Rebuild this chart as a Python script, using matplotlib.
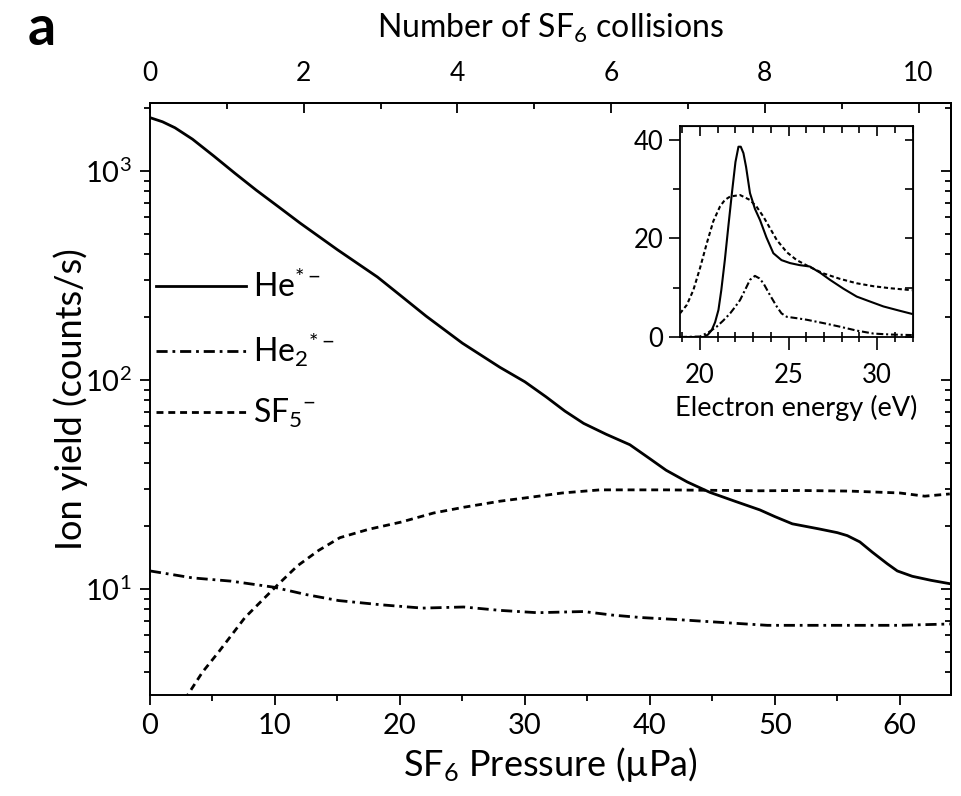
import matplotlib
matplotlib.use("Agg")
import matplotlib.pyplot as plt
import numpy as np
from matplotlib.ticker import MultipleLocator, LogLocator, NullFormatter, FixedLocator

plt.rcParams['font.family'] = ['Lato', 'DejaVu Sans']
plt.rcParams['mathtext.fontset'] = 'custom'
plt.rcParams['mathtext.rm'] = 'Lato'
plt.rcParams['mathtext.it'] = 'Lato:italic'
plt.rcParams['mathtext.bf'] = 'Lato:bold'
plt.rcParams['lines.scale_dashes'] = False

# main panel: ion yield vs SF6 pressure (uPa)
he_p = [0, 1, 2, 3.4, 5.1, 6.8, 8.5, 10.3, 12, 15, 18.2, 20, 22.1, 25, 28, 30, 31.7, 33.2,
        34.7, 36.5, 38.4, 40, 41.3, 43, 44.8, 46.8, 48.8, 50, 51.4, 53.5, 55, 55.8, 56.8,
        57.8, 59, 59.8, 61, 62.5, 64]
he_y = [1800, 1720, 1610, 1420, 1180, 975, 810, 673, 564, 420, 311, 255, 202, 150, 115, 98,
        83, 71, 62, 55, 49, 42, 37, 32.5, 29, 26.3, 23.9, 22.2, 20.5, 19.4, 18.6, 18.0, 16.8,
        15.0, 13.2, 12.2, 11.5, 11.0, 10.6]

he2_p = [0, 3.4, 6.5, 9.9, 12.5, 15.1, 18.5, 21.8, 25.1, 28, 31, 34.7, 37, 39.3, 42,
         45.2, 49.4, 55, 60, 64]
he2_y = [12.2, 11.3, 10.9, 10.2, 9.4, 8.8, 8.4, 8.1, 8.2, 7.9, 7.7, 7.8, 7.5, 7.3, 7.15,
         6.95, 6.7, 6.7, 6.7, 6.8]

sf5_p = [2.5, 3.0, 4.2, 5.5, 7.6, 10.1, 11.8, 13.5, 15.2, 17.5, 20.1, 22.7, 25.1, 28,
         30.7, 33, 36, 41.3, 48.8, 52, 56, 60, 62, 64]
sf5_y = [2.6, 3.1, 4.0, 5.0, 7.3, 10.3, 12.9, 15.3, 17.6, 19.3, 20.9, 23.1, 24.6, 26.3,
         27.6, 28.8, 29.8, 29.8, 29.5, 29.6, 29.4, 28.8, 27.8, 28.5]

# inset: yield vs electron energy (eV)
e_he = [18.87, 20.2, 20.45, 20.66, 20.85, 21.04, 21.2, 21.4, 21.6, 21.8, 22.0, 22.17, 22.3,
        22.45, 22.6, 22.82, 23.1, 23.39, 23.75, 24.14, 24.6, 25.08, 25.6, 26.2, 26.8, 27.34,
        28.1, 28.85, 29.6, 30.36, 31.2, 31.96]
c_he = [0, 0, 0.5, 1.4, 3.0, 5.5, 9.5, 15.6, 22.5, 29.2, 35.5, 38.6, 38.6, 37.3, 34.5, 29.2,
        26.0, 23.7, 20.2, 17.0, 15.6, 15.0, 14.6, 14.3, 13.0, 11.6, 9.8, 8.2, 7.2, 6.2, 5.4,
        4.7]
e_sf5 = [18.87, 19.25, 19.62, 20.0, 20.38, 20.75, 21.13, 21.4, 21.7, 22.26, 22.82, 23.2,
         23.58, 24.33, 24.9, 25.46, 26.2, 26.97, 27.9, 28.85, 29.8, 30.73, 31.96]
c_sf5 = [4.8, 6.5, 9.5, 14.0, 19.0, 23.5, 26.5, 27.8, 28.5, 28.8, 27.8, 26.4, 24.4, 19.7,
         17.2, 15.6, 14.2, 12.9, 11.8, 10.9, 10.3, 9.9, 9.5]
e_he2 = [18.87, 20.0, 20.5, 20.94, 21.3, 21.7, 22.0, 22.26, 22.55, 22.82, 23.1, 23.35,
         23.58, 23.95, 24.33, 24.6, 24.9, 25.5, 26.03, 27.0, 27.9, 28.85, 29.8, 30.8, 31.96]
c_he2 = [0, 0.1, 1.0, 2.1, 3.3, 4.8, 6.2, 7.5, 9.6, 11.6, 12.4, 11.9, 10.9, 8.5, 6.2, 4.8,
         4.1, 3.8, 3.5, 2.8, 2.1, 1.3, 0.7, 0.5, 0.4]

upa_per_collision = 6.15
collision_ticks = [0, 2, 4, 6, 8, 10]
collision_minor = [1, 3, 5, 7, 9]

fig = plt.figure(figsize=(9.62, 7.96), dpi=100)
ax = fig.add_axes([0.1559, 0.1269, 0.8327, 0.7437])

lw = 2.0
ax.plot(he_p, he_y, color='black', lw=lw, label=r'He$^{*-}$')
ax.plot(he2_p, he2_y, color='black', lw=lw, dashes=(8, 3.5, 2, 3.5),
        label=r'He$_2$$^{*-}$')
ax.plot(sf5_p, sf5_y, color='black', lw=lw, dashes=(5, 3.5), label=r'SF$_5$$^{-}$')

ax.set_yscale('log')
ax.set_xlim(0, 64.1)
ax.set_ylim(3.11, 2115)
ax.xaxis.set_major_locator(MultipleLocator(10))
ax.xaxis.set_minor_locator(MultipleLocator(5))
ax.yaxis.set_major_locator(LogLocator(base=10, numticks=10))
ax.yaxis.set_minor_locator(LogLocator(base=10, subs=np.arange(2, 10), numticks=10))
ax.yaxis.set_minor_formatter(NullFormatter())
for s in ax.spines.values():
    s.set_linewidth(1.4)
ax.tick_params(which='both', direction='out', width=1.3, top=False, right=False)
ax.tick_params(which='major', length=7)
ax.tick_params(which='minor', length=4)
ax.tick_params(axis='x', labelsize=21, pad=6)
ax.tick_params(axis='y', labelsize=21, pad=6)
ax.set_xlabel(r'SF$_6$ Pressure (µPa)', fontsize=26, labelpad=4)
ax.set_ylabel('Ion yield (counts/s)', fontsize=26, labelpad=-2)

# right axis: inward ticks only
axr = ax.secondary_yaxis('right', functions=(lambda v: v, lambda v: v))
axr.yaxis.set_major_locator(LogLocator(base=10, numticks=10))
axr.yaxis.set_minor_locator(LogLocator(base=10, subs=np.arange(2, 10), numticks=10))
axr.tick_params(which='both', direction='in', width=1.3, labelright=False)
axr.tick_params(which='major', length=7)
axr.tick_params(which='minor', length=4)
axr.spines['right'].set_linewidth(1.4)

# top axis: number of SF6 collisions
axt = ax.secondary_xaxis('top', functions=(lambda p: p / upa_per_collision,
                                           lambda c: c * upa_per_collision))
axt.xaxis.set_major_locator(FixedLocator(collision_ticks))
axt.xaxis.set_minor_locator(FixedLocator(collision_minor))
axt.tick_params(which='both', direction='in', width=1.3, labelsize=19, pad=12)
axt.tick_params(which='major', length=7)
axt.tick_params(which='minor', length=4)
axt.spines['top'].set_linewidth(1.4)
axt.set_xlabel(r'Number of SF$_6$ collisions', fontsize=23, labelpad=17)

leg = ax.legend(loc='upper left', bbox_to_anchor=(0.008, 0.718), frameon=False, fontsize=23,
                handlelength=2.8, handletextpad=0.22, labelspacing=0.86, borderpad=0,
                borderaxespad=0)

fig.text(0.029, 0.943, 'a', fontsize=40, fontweight='bold', va='baseline', ha='left')

# inset
ins = fig.add_axes([0.7069, 0.5766, 0.2422, 0.2651])
ins.plot(e_he, c_he, color='black', lw=1.5)
ins.plot(e_sf5, c_sf5, color='black', lw=1.5, dashes=(3, 2))
ins.plot(e_he2, c_he2, color='black', lw=1.5, dashes=(5, 2, 1.5, 2))
ins.set_xlim(18.87, 32.03)
ins.set_ylim(0, 42.8)
ins.xaxis.set_major_locator(MultipleLocator(5))
ins.xaxis.set_minor_locator(MultipleLocator(1))
ins.yaxis.set_major_locator(MultipleLocator(20))
ins.yaxis.set_minor_locator(MultipleLocator(10))
for s in ins.spines.values():
    s.set_linewidth(1.3)
ins.tick_params(which='both', width=1.2, labelsize=18.5)
ins.tick_params(axis='x', which='major', direction='out', length=9, pad=10)
ins.tick_params(axis='x', which='minor', direction='inout', length=7)
ins.tick_params(axis='y', which='major', direction='out', length=8, pad=4)
ins.tick_params(axis='y', which='minor', direction='out', length=5)
ins.set_xlabel('Electron energy (eV)', fontsize=19.5, labelpad=5)

ins_r = ins.secondary_yaxis('right', functions=(lambda v: v, lambda v: v))
ins_r.yaxis.set_major_locator(MultipleLocator(20))
ins_r.yaxis.set_minor_locator(MultipleLocator(10))
ins_r.tick_params(which='both', direction='in', width=1.2, labelright=False, length=6)
ins_t = ins.secondary_xaxis('top', functions=(lambda v: v, lambda v: v))
ins_t.xaxis.set_major_locator(MultipleLocator(5))
ins_t.xaxis.set_minor_locator(MultipleLocator(1))
ins_t.tick_params(which='major', direction='in', width=1.2, labeltop=False, length=7)
ins_t.tick_params(which='minor', direction='in', width=1.2, labeltop=False, length=5)

fig.savefig('out.png', dpi=100)
